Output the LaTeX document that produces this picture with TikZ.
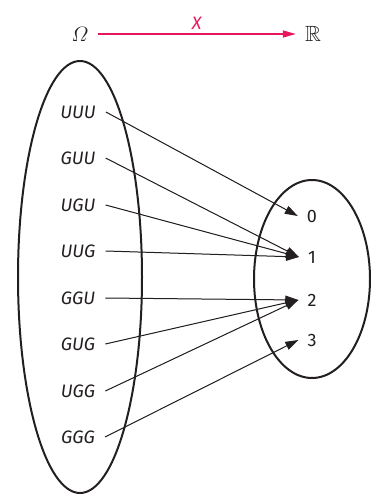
\documentclass[tikz,border=0pt]{standalone}
\usepackage{amsmath,amssymb}
\usepackage{fontspec}
\setsansfont{Fira Sans}
\usepackage{tikz}
\usetikzlibrary{arrows.meta}
\definecolor{mappink}{HTML}{E8175D}
\definecolor{ink}{HTML}{231F20}

\begin{document}
\begin{tikzpicture}
	[x=1pt, y=-1pt, color=ink,
	every node/.style={font=\sffamily\fontsize{18}{20}\selectfont},
	outcome/.style={font=\sffamily\itshape\fontsize{18}{20}\selectfont, inner xsep=10pt},
	value/.style={inner xsep=9pt},
	space/.style={inner xsep=9pt, font=\fontsize{22}{24}\selectfont},
	set/.style={draw=ink, line width=2pt},
	map/.style={draw=ink, fill=ink, line width=1pt, -{Triangle[length=13pt,width=8.5pt]}},
	bigmap/.style={draw=mappink, fill=mappink, line width=1.3pt, -{Triangle[length=13pt,width=7pt]}}]
	\useasboundingbox (0,0) rectangle (371,495);
	% the two sets
	\node[space] (omega) at (80,34) {$\varOmega$};
	\node[space] (reals) at (313,34) {$\mathbb{R}$};
	\draw[bigmap] (omega) -- (reals)
		node[midway, above=1pt, text=mappink, font=\sffamily\itshape\fontsize{18}{20}\selectfont] {X};
	\draw[set] (80,277) ellipse [x radius=62, y radius=216];
	\draw[set] (312,279) ellipse [x radius=58, y radius=99];
	% outcomes
	\node[outcome] (uuu) at (78,112) {UUU};
	\node[outcome] (guu) at (78,158) {GUU};
	\node[outcome] (ugu) at (78,205) {UGU};
	\node[outcome] (uug) at (78,251) {UUG};
	\node[outcome] (ggu) at (78,298) {GGU};
	\node[outcome] (gug) at (78,344) {GUG};
	\node[outcome] (ugg) at (78,391) {UGG};
	\node[outcome] (ggg) at (78,437) {GGG};
	% values
	\node[value] (n0) at (312,216) {0};
	\node[value] (n1) at (312,257) {1};
	\node[value] (n2) at (312,300) {2};
	\node[value] (n3) at (312,340) {3};
	% the map
	\draw[map] (uuu.east) -- (n0.west);
	\draw[map] (guu.east) -- (n1.west);
	\draw[map] (ugu.east) -- (n1.west);
	\draw[map] (uug.east) -- (n1.west);
	\draw[map] (ggu.east) -- (n2.west);
	\draw[map] (gug.east) -- (n2.west);
	\draw[map] (ugg.east) -- (n2.west);
	\draw[map] (ggg.east) -- (n3.west);
\end{tikzpicture}
\end{document}
